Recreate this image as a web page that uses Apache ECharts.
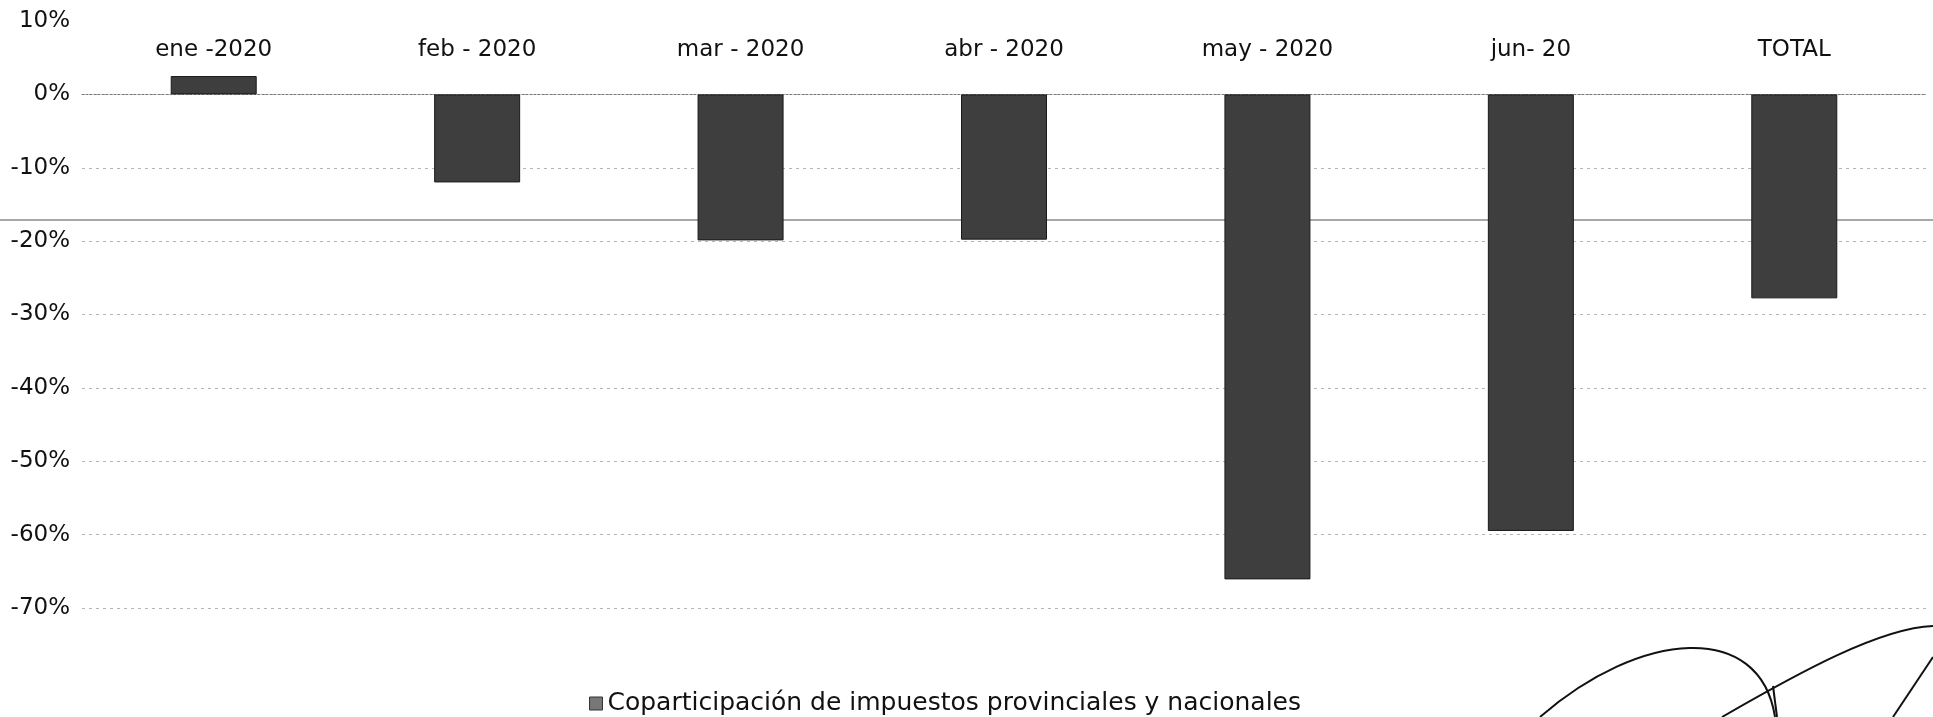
<!DOCTYPE html>
<html>
<head>
<meta charset="utf-8">
<script src="https://cdn.jsdelivr.net/npm/echarts@6/dist/echarts.min.js"></script>
<style>
  html, body { margin: 0; padding: 0; background: #fff; }
  #chart { width: 1933px; height: 717px; }
</style>
</head>
<body>
<div id="chart"></div>
<script>
// datos
var meses = ['ene -2020', 'feb - 2020', 'mar - 2020', 'abr - 2020', 'may - 2020', 'jun- 20', 'TOTAL'];
var variacion = [2.5, -12.0, -19.9, -19.8, -66.1, -59.5, -27.8];
var serieNombre = 'Coparticipación de impuestos provinciales y nacionales';
var ejeMin = -70, ejeMax = 10, ejeIntervalo = 10;

(function () {
  var myChart = echarts.init(document.getElementById('chart'));
  var fuente = 'DejaVu Sans';
  var gridTop = 21, gridBottom = 109;
  var alto = 717 - gridTop - gridBottom;
  // las etiquetas van sobre la linea del 0%
  var offsetCero = -alto * ejeMax / (ejeMax - ejeMin);

  var option = {
    animation: false,
    backgroundColor: '#fff',
    grid: { left: 82, right: 7, top: gridTop, bottom: gridBottom, containLabel: false, outerBoundsMode: 'none' },
    legend: {
      left: 584,
      top: 686,
      itemWidth: 13,
      itemHeight: 13,
      itemGap: 10,
      icon: 'rect',
      textStyle: { fontFamily: fuente, fontSize: 25, color: '#111' },
      itemStyle: { color: '#777', borderColor: '#333', borderWidth: 1 },
      data: [serieNombre]
    },
    xAxis: {
      type: 'category',
      position: 'top',
      offset: offsetCero,
      data: meses,
      axisLine: { onZero: false, lineStyle: { color: '#777', type: [2, 2], width: 1 } },
      axisTick: { show: false },
      axisLabel: { margin: 33, fontFamily: fuente, fontSize: 23, color: '#111' }
    },
    yAxis: {
      type: 'value',
      min: ejeMin,
      max: ejeMax,
      interval: ejeIntervalo,
      axisLine: { show: false },
      axisTick: { show: false },
      axisLabel: { formatter: '{value}%', margin: 12, fontFamily: fuente, fontSize: 23, color: '#111' },
      splitLine: { showMaxLine: false, lineStyle: { color: '#b5b5b5', type: [3, 4], width: 1 } }
    },
    series: [{
      name: serieNombre,
      type: 'bar',
      barWidth: 86,
      data: variacion,
      itemStyle: { color: '#3e3e3e', borderColor: '#1a1a1a', borderWidth: 1 }
    }],
    graphic: [
      // linea gris del escaneo
      { type: 'line', silent: true, shape: { x1: 0, y1: 220, x2: 1933, y2: 220 },
        style: { stroke: '#a8a8a8', lineWidth: 2 } },
      // firma
      { type: 'bezierCurve', silent: true,
        shape: { x1: 1540, y1: 717, cpx1: 1640, cpy1: 630, cpx2: 1760, cpy2: 620, x2: 1775, y2: 717 },
        style: { stroke: '#111', lineWidth: 2, fill: null } },
      { type: 'bezierCurve', silent: true,
        shape: { x1: 1722, y1: 717, cpx1: 1800, cpy1: 672, cpx2: 1880, cpy2: 628, x2: 1933, y2: 626 },
        style: { stroke: '#111', lineWidth: 2, fill: null } },
      { type: 'line', silent: true, shape: { x1: 1773, y1: 686, x2: 1777, y2: 717 },
        style: { stroke: '#111', lineWidth: 2 } },
      { type: 'line', silent: true, shape: { x1: 1893, y1: 717, x2: 1933, y2: 657 },
        style: { stroke: '#111', lineWidth: 2 } }
    ]
  };

  myChart.setOption(option);
  window.addEventListener('resize', function () { myChart.resize(); });
})();
</script>
</body>
</html>
